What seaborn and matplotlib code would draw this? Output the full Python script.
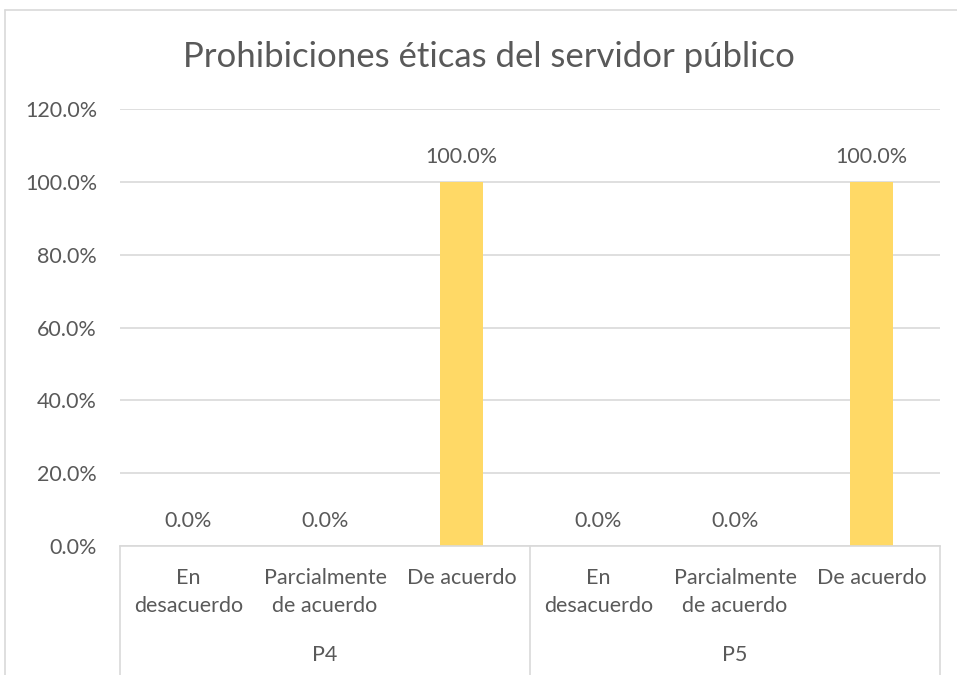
import matplotlib
matplotlib.use("Agg")
import matplotlib.pyplot as plt
import matplotlib.transforms as mtransforms
from matplotlib.lines import Line2D
import seaborn as sns
import pandas as pd

# ---- data ----
groups = ["P4", "P5"]
categories = ["En\ndesacuerdo", "Parcialmente\nde acuerdo", "De acuerdo"]
values_p4 = [0.0, 0.0, 100.0]
values_p5 = [0.0, 0.0, 100.0]
yticks = [0, 20, 40, 60, 80, 100, 120]
title = "Prohibiciones éticas del servidor público"

rows = []
for g, vals in zip(groups, [values_p4, values_p5]):
    for c, v in zip(categories, vals):
        rows.append({"key": f"{g}|{c}", "group": g, "cat": c, "value": v})
df = pd.DataFrame(rows)
order = list(df["key"])

sns.set_theme(style="white")
plt.rcParams["font.family"] = ["Lato", "DejaVu Sans"]

TXT = "#595959"
GRID = "#D9D9D9"
BAR = "#FFD966"
FS = 15.5

fig = plt.figure(figsize=(9.57, 6.75), dpi=100)
ax = fig.add_axes([120/957, 1-546/675, (940-120)/957, (546-109)/675])

sns.barplot(data=df, x="key", y="value", order=order, color=BAR,
            width=0.31, saturation=1, ax=ax, edgecolor="none")

ax.set_xlim(-0.5, len(order)-0.5)
ax.set_ylim(0, 120)
ax.set_yticks(yticks)
ax.set_yticklabels([f"{t:.1f}%" for t in yticks], color=TXT, fontsize=FS)
ax.tick_params(axis="y", length=0, pad=16.5)
ax.yaxis.grid(True, color=GRID, linewidth=1.2)
ax.set_axisbelow(True)
for s in ["left", "right", "top"]:
    ax.spines[s].set_visible(False)
ax.spines["bottom"].set_color(GRID)
ax.spines["bottom"].set_linewidth(1.2)
ax.set_xlabel("")
ax.set_ylabel("")
ax.set_xticks([])

# data labels
for i, v in enumerate(df["value"]):
    ax.annotate(f"{v:.1f}%", (i, v), xytext=(0, 18), textcoords="offset points",
                ha="center", va="center", color=TXT, fontsize=FS)

# category labels (one text per line)
trans = mtransforms.blended_transform_factory(ax.transData, fig.transFigure)
line_y = [578, 606]
for i, c in enumerate(df["cat"]):
    for j, part in enumerate(c.split("\n")):
        ax.text(i, 1-line_y[j]/675, part, transform=trans, ha="center",
                va="center", color=TXT, fontsize=FS)
# group labels
n = len(categories)
for gi, g in enumerate(groups):
    center = gi*n + (n-1)/2
    ax.text(center, 1-655/675, g, transform=trans, ha="center", va="center",
            color=TXT, fontsize=FS)
# separators
for b in range(len(groups)+1):
    xb = b*n - 0.5
    ax.add_line(Line2D([xb, xb], [1-546/675, 0], transform=trans,
                       color=GRID, linewidth=1.2, clip_on=False))

# title
fig.text(489/957, 1-57/675, title, ha="center", va="center", color=TXT, fontsize=25)

# chart border
fig.add_artist(Line2D([5/957, 1], [1-10/675, 1-10/675], color=GRID, linewidth=1.2))
fig.add_artist(Line2D([5/957, 5/957], [1-10/675, 0], color=GRID, linewidth=1.2))

fig.savefig("out.png", dpi=100, facecolor="white")
